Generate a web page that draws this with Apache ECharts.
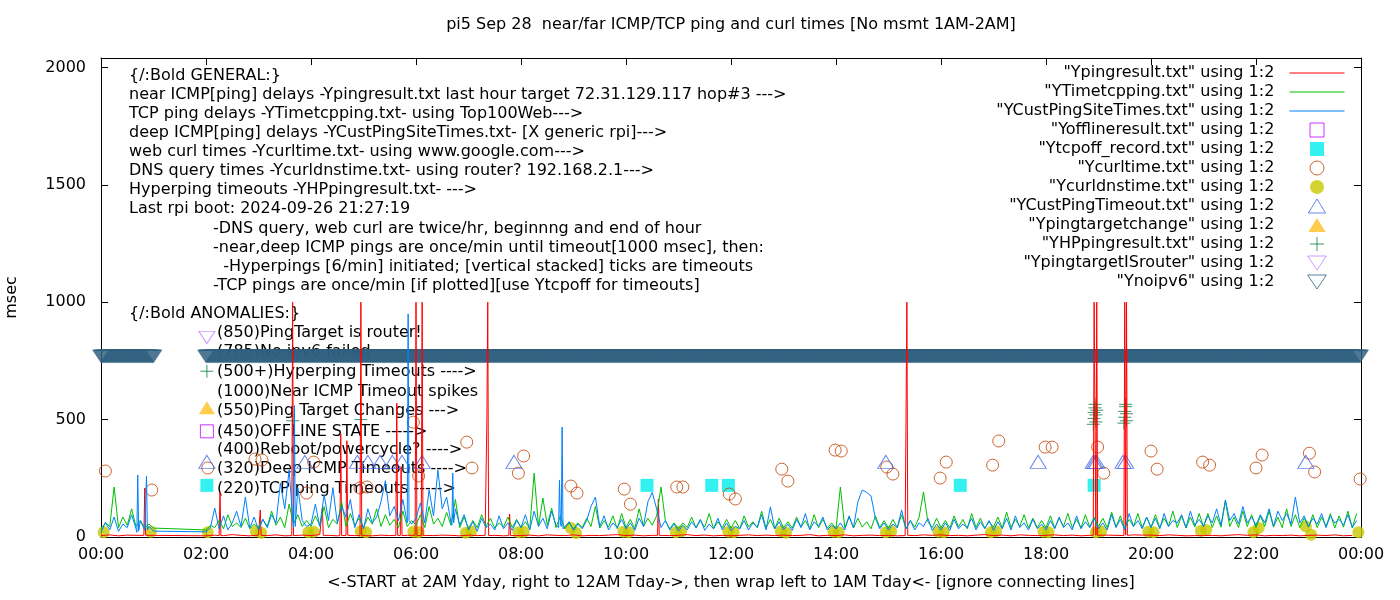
<!DOCTYPE html>
<html>
<head>
<meta charset="utf-8">
<title>pi5 near/far ICMP/TCP ping and curl times</title>
<script src="https://cdn.jsdelivr.net/npm/echarts@6.0.0/dist/echarts.min.js"></script>
<style>
  html, body { margin: 0; padding: 0; background: #fff; }
  #chart { width: 1400px; height: 600px; }
</style>
</head>
<body>
<div id="chart"></div>
<script>
// ---- data (x = minutes after midnight, y = msec) ----
var titleText = 'pi5 Sep 28  near/far ICMP/TCP ping and curl times [No msmt 1AM-2AM]';
var xTitle = '<-START at 2AM Yday, right to 12AM Tday->, then wrap left to 1AM Tday<- [ignore connecting lines]';
var yTitle = 'msec';

var seriesNames = [
  '"Ypingresult.txt" using 1:2',
  '"YTimetcpping.txt" using 1:2',
  '"YCustPingSiteTimes.txt" using 1:2',
  '"Yofflineresult.txt" using 1:2',
  '"Ytcpoff_record.txt" using 1:2',
  '"Ycurltime.txt" using 1:2',
  '"Ycurldnstime.txt" using 1:2',
  '"YCustPingTimeout.txt" using 1:2',
  '"Ypingtargetchange" using 1:2',
  '"YHPpingresult.txt" using 1:2',
  '"YpingtargetISrouter" using 1:2',
  '"Ynoipv6" using 1:2'
];

// near ICMP ping, one row per hour, 10-minute samples
var pingRows = [
  [6, 9, 5, 8, 7, 6], [7, null, null, null, null, null],
  [5, 8, 6, 10, 7, 5], [8, 6, 9, 5, 7, 8], [6, 10, 7, 5, 9, 6], [7, 5, 8, 6, 10, 7],
  [5, 9, 6, 8, 7, 5], [8, 6, 10, 7, 5, 9], [6, 8, 5, 9, 7, 6], [9, 5, 7, 6, 8, 10],
  [6, 8, 5, 7, 9, 6], [7, 10, 6, 8, 5, 7], [5, 7, 9, 6, 8, 6], [8, 6, 7, 10, 5, 7],
  [6, 9, 5, 7, 8, 6], [7, 5, 8, 6, 9, 7], [9, 6, 7, 5, 8, 10], [6, 8, 5, 9, 7, 6],
  [7, 9, 6, 8, 5, 7], [5, 8, 7, 6, 9, 8], [8, 6, 9, 7, 5, 6], [6, 7, 5, 8, 10, 7],
  [9, 5, 7, 6, 8, 5], [7, 8, 6, 9, 5, 7]
];
var pingSpikes = [
  [49, 7], [50, 208], [51, 7], [135, 6], [136, 192], [137, 6], [181, 7], [182, 115], [183, 7],
  [218, 6], [219, 1000], [220, 6], [252, 7], [253, 123], [254, 7],
  [273, 6], [274, 440], [275, 6], [280, 7], [281, 410], [282, 7],
  [296, 6], [297, 1000], [298, 6], [337, 7], [338, 570], [339, 7], [342, 6], [343, 300], [344, 6],
  [359, 7], [360, 1000], [361, 6], [366, 6], [367, 1000], [368, 7],
  [439, 7], [441, 500], [442, 1000], [443, 6], [466, 6], [467, 98], [468, 6],
  [636, 7], [637, 162], [638, 7], [919, 6], [920, 500], [921, 1000], [922, 7],
  [1134, 7], [1135, 1000], [1136, 1000], [1137, 7], [1138, 1000], [1139, 7],
  [1169, 6], [1170, 1000], [1171, 8], [1172, 1000], [1173, 7]
];

// TCP ping, one row per hour, 5-minute samples
var tcpRows = [
  [35, 60, 45, 213, 40, 85, 50, 120, 45, 70, 40, 55],
  [38, null, null, null, null, null, null, null, null, null, null, null],
  [30, 50, 40, 70, 35, 95, 45, 60, 40, 80, 35, 55],
  [40, 75, 45, 110, 50, 85, 40, 140, 55, 95, 45, 70],
  [45, 90, 50, 130, 40, 75, 55, 150, 45, 100, 50, 80],
  [40, 85, 55, 120, 45, 95, 50, 75, 40, 110, 45, 70],
  [50, 95, 40, 130, 55, 80, 45, 105, 50, 160, 40, 85],
  [35, 70, 40, 95, 45, 80, 38, 60, 42, 85, 40, 75],
  [40, 65, 35, 272, 45, 166, 50, 123, 40, 90, 35, 60],
  [35, 60, 40, 80, 45, 130, 38, 70, 42, 90, 35, 100],
  [40, 75, 35, 120, 45, 80, 50, 90, 213, 70, 35, 60],
  [35, 60, 40, 85, 38, 70, 42, 100, 35, 65, 40, 75],
  [38, 70, 35, 90, 42, 65, 40, 110, 38, 75, 35, 80],
  [40, 65, 38, 85, 42, 70, 35, 95, 40, 75, 38, 60],
  [35, 213, 40, 85, 38, 80, 42, 65, 35, 90, 40, 70],
  [38, 75, 40, 95, 35, 70, 42, 85, 192, 65, 40, 80],
  [40, 70, 38, 90, 42, 75, 35, 100, 40, 80, 38, 65],
  [42, 85, 38, 106, 40, 75, 45, 95, 38, 80, 40, 70],
  [40, 90, 38, 80, 45, 100, 40, 75, 38, 95, 42, 85],
  [45, 80, 40, 106, 42, 90, 38, 75, 45, 100, 40, 85],
  [42, 95, 40, 80, 45, 110, 40, 90, 38, 85, 42, 100],
  [45, 100, 40, 90, 42, 153, 45, 85, 40, 110, 45, 95],
  [40, 90, 45, 110, 42, 85, 40, 120, 45, 95, 40, 80],
  [42, 95, 40, 85, 45, 100, 38, 90, 42, 110, 40, 100]
];
var tcpSpikes = [];

// deep ICMP ping, one row per hour, 5-minute samples
var custRows = [
  [18, 62, 30, 85, 24, 55, 40, 95, 35, 70, 28, 45],
  [25, null, null, null, null, null, null, null, null, null, null, null],
  [22, 40, 123, 35, 90, 30, 60, 110, 45, 170, 38, 85],
  [30, 75, 40, 95, 60, 230, 120, 285, 90, 210, 70, 45],
  [55, 140, 45, 180, 70, 210, 60, 130, 85, 160, 40, 95],
  [35, 120, 60, 85, 150, 240, 90, 130, 70, 160, 110, 55],
  [80, 145, 60, 200, 90, 285, 120, 170, 60, 120, 50, 95],
  [30, 65, 25, 80, 40, 55, 30, 90, 35, 60, 28, 70],
  [40, 95, 30, 110, 45, 80, 35, 110, 50, 60, 30, 65],
  [28, 55, 35, 70, 130, 170, 45, 90, 30, 60, 40, 75],
  [35, 60, 28, 80, 45, 150, 190, 120, 40, 70, 30, 55],
  [25, 50, 30, 65, 40, 75, 28, 55, 35, 80, 30, 60],
  [28, 45, 35, 70, 30, 60, 40, 95, 30, 128, 35, 65],
  [30, 55, 28, 75, 40, 100, 30, 65, 45, 85, 30, 50],
  [35, 60, 30, 90, 40, 150, 200, 190, 175, 80, 35, 60],
  [30, 55, 40, 115, 35, 70, 30, 60, 45, 80, 28, 55],
  [30, 60, 28, 75, 35, 55, 40, 80, 30, 65, 35, 70],
  [28, 65, 35, 80, 30, 90, 40, 60, 30, 75, 35, 55],
  [30, 70, 35, 85, 40, 60, 30, 90, 35, 65, 40, 80],
  [35, 60, 30, 95, 40, 75, 30, 100, 45, 70, 35, 85],
  [40, 80, 35, 100, 45, 70, 60, 95, 40, 110, 50, 75],
  [45, 90, 60, 120, 50, 158, 70, 100, 55, 130, 60, 85],
  [50, 95, 60, 120, 45, 110, 70, 100, 55, 170, 60, 90],
  [45, 80, 55, 100, 40, 90, 60, 75, 50, 95, 40, 70]
];
var custSpikes = [
  [41, 20], [42, 264], [43, 25], [51, 22], [52, 260], [53, 30],
  [220, 40], [221, 560], [222, 45], [350, 60], [351, 950], [352, 70],
  [401, 50], [402, 272], [403, 60], [523, 40], [524, 243], [526, 45], [527, 468], [528, 35]
];

var offlinePts = [[121, 450]];
var tcpOffPts = [[121, 220], [624, 220], [698, 220], [717, 220], [982, 220], [1135, 220]];
var curlPts = [
  [5, 281], [58, 200], [122, 294], [176, 332], [184, 328], [235, 187], [243, 319], [296, 209],
  [304, 213], [357, 489], [363, 260], [418, 404], [424, 294], [477, 272], [483, 345], [537, 217],
  [544, 187], [598, 204], [605, 140], [658, 213], [665, 213], [718, 183], [725, 162], [778, 289],
  [785, 238], [839, 370], [846, 366], [898, 298], [905, 268], [959, 251], [966, 319], [1019, 306],
  [1026, 409], [1079, 383], [1087, 383], [1139, 383], [1146, 272], [1200, 366], [1207, 289],
  [1259, 319], [1267, 306], [1320, 294], [1327, 349], [1381, 357], [1387, 277], [1439, 247]
];
var dnsPts = [
  [3, 20], [57, 22], [122, 20], [177, 25], [183, 18], [237, 20], [243, 22], [297, 24], [303, 20],
  [357, 22], [363, 20], [417, 18], [423, 25], [477, 20], [483, 22], [537, 38], [543, 17],
  [597, 22], [603, 20], [657, 20], [663, 24], [717, 22], [723, 20], [777, 24], [783, 18],
  [837, 22], [843, 20], [897, 20], [903, 24], [957, 22], [963, 20], [1017, 20], [1023, 25],
  [1077, 22], [1083, 20], [1137, 20], [1143, 24], [1197, 22], [1203, 20], [1257, 26], [1263, 30],
  [1317, 20], [1323, 38], [1377, 45], [1383, 10], [1437, 20]
];
var custTimeoutMinutes = [121, 233, 293, 305, 319, 333, 344, 367, 472, 897, 1071, 1134, 1136, 1138, 1168, 1171, 1377];
var CUST_TIMEOUT_LEVEL = 320;
var targetChangePts = [[121, 550]];
var hyperPts = [
  [121, 706], [219, 495], [297, 500],
  [1134, 480], [1135, 505], [1135, 530], [1136, 550], [1136, 565], [1137, 490], [1137, 520], [1138, 540],
  [1169, 485], [1170, 510], [1170, 535], [1171, 555], [1171, 565], [1172, 495], [1172, 525]
];
var isRouterPts = [[121, 850]];
var noipv6Ranges = [[0, 60], [120, 1439]];   // one record per minute inside each range
var NOIPV6_LEVEL = 770;

var generalLines = [
  '{/:Bold GENERAL:}',
  'near ICMP[ping] delays -Ypingresult.txt last hour target 72.31.129.117 hop#3 --->',
  'TCP ping delays -YTimetcpping.txt- using Top100Web--->',
  'deep ICMP[ping] delays -YCustPingSiteTimes.txt- [X generic rpi]--->',
  'web curl times -Ycurltime.txt- using www.google.com--->',
  'DNS query times -Ycurldnstime.txt- using router? 192.168.2.1--->',
  'Hyperping timeouts -YHPpingresult.txt- --->',
  'Last rpi boot: 2024-09-26 21:27:19'
];
var noteLines = [
  '-DNS query, web curl are twice/hr, beginnng and end of hour',
  '-near,deep ICMP pings are once/min until timeout[1000 msec], then:',
  '  -Hyperpings [6/min] initiated; [vertical stacked] ticks are timeouts',
  '-TCP pings are once/min [if plotted][use Ytcpoff for timeouts]'
];
var anomalyHead = '{/:Bold ANOMALIES:}';
var anomalyLines = [
  '(850)PingTarget is router!',
  '(785)No ipv6 failed',
  '(500+)Hyperping Timeouts ---->',
  '(1000)Near ICMP Timeout spikes',
  '(550)Ping Target Changes --->',
  '(450)OFFLINE STATE ----->',
  '(400)Reboot/powercycle? ---->',
  '(320)Deep ICMP Timeouts ---->',
  '(220)TCP ping Timeouts ----->'
];

// ---- helpers ----
var FONT = 'DejaVu Sans';
var FS = 16;
var SQUARE = 'path://M0,0L10,0L10,10L0,10Z';
var UP_TRI = 'path://M8,0L16,13L0,13Z';
var DOWN_TRI = 'path://M0,0L16,0L8,12Z';
var PLUS = 'path://M6,0L6,12M0,6L12,6';

function pad(n) { return (n < 10 ? '0' : '') + n; }
function hhmm(m) { return pad(Math.floor(m / 60) % 24) + ':' + pad(m % 60); }

function buildLine(rows, step, spikes) {
  var byMinute = {};
  rows.forEach(function (row, hour) {
    row.forEach(function (v, i) {
      if (v !== null) byMinute[hour * 60 + i * step] = v;
    });
  });
  spikes.forEach(function (p) { byMinute[p[0]] = p[1]; });
  return Object.keys(byMinute).map(Number).sort(function (a, b) { return a - b; })
    .map(function (m) { return [m, byMinute[m]]; });
}

function expandRanges(ranges, level) {
  var pts = [];
  ranges.forEach(function (r) {
    for (var m = r[0]; m <= r[1]; m++) pts.push([m, level]);
  });
  return pts;
}

function lineSeries(name, color, data) {
  return {
    name: name, type: 'line', data: data, symbol: 'none', showSymbol: false,
    lineStyle: { color: color, width: 1 }, itemStyle: { color: color }, silent: true
  };
}

function scatterSeries(name, symbol, size, color, open, data) {
  return {
    name: name, type: 'scatter', data: data, symbol: symbol, symbolSize: size, silent: true,
    itemStyle: open
      ? { color: 'rgba(0,0,0,0)', borderColor: color, borderWidth: 1 }
      : { color: color }
  };
}

function textEl(text, x, y, extra) {
  var style = { text: text, x: x, y: y, fill: '#000', fontSize: FS, fontFamily: FONT, verticalAlign: 'middle' };
  for (var k in extra) style[k] = extra[k];
  return { type: 'text', z: 0, style: style };
}

// ---- graphic labels ----
var graphics = [textEl(titleText, 731, 25, { align: 'center' })];
generalLines.forEach(function (t, i) { graphics.push(textEl(t, 129, 75.5 + i * 19.1)); });
noteLines.forEach(function (t, i) { graphics.push(textEl(t, 213, 229 + i * 19)); });
graphics.push(textEl(anomalyHead, 129, 314));
var anomalyY = [333, 352, 372, 392, 411, 432, 450, 469, 489];
anomalyLines.forEach(function (t, i) { graphics.push(textEl(t, 217, anomalyY[i])); });

var axisText = { color: '#000', fontSize: FS, fontFamily: FONT };
var blackLine = { show: true, onZero: false, lineStyle: { color: '#000', width: 1 } };
var legendData = seriesNames.map(function (n, i) {
  return i < 3 ? { name: n, itemStyle: { opacity: 0 } } : { name: n };
});

var chart = echarts.init(document.getElementById('chart'));
chart.setOption({
  animation: false,
  backgroundColor: '#fff',
  grid: { left: 101, right: 39, top: 58, bottom: 63, containLabel: false, outerBoundsMode: 'none' },
  graphic: graphics,
  legend: {
    orient: 'vertical', right: 50, top: 60, align: 'right',
    itemWidth: 55, itemHeight: 14, itemGap: 3, selectedMode: false,
    textStyle: { color: '#000', fontSize: FS, fontFamily: FONT },
    formatter: function (n) { return n + '  '; },
    itemStyle: { borderWidth: 1 },
    lineStyle: { width: 1 },
    data: legendData
  },
  xAxis: [{
    type: 'value', min: 0, max: 1440, interval: 120,
    axisLine: blackLine,
    axisTick: { inside: true, length: 7, lineStyle: { color: '#000' } },
    axisLabel: { formatter: hhmm, margin: 10, color: '#000', fontSize: FS, fontFamily: FONT },
    splitLine: { show: false },
    name: xTitle, nameLocation: 'middle', nameGap: 38, nameTextStyle: axisText
  }, {
    type: 'value', position: 'top', min: 0, max: 1440, interval: 120,
    axisLine: blackLine,
    axisTick: { inside: true, length: 7, lineStyle: { color: '#000' } },
    axisLabel: { show: false }, splitLine: { show: false }
  }],
  yAxis: [{
    type: 'value', min: 0, max: 2040, interval: 500,
    axisLine: blackLine,
    axisTick: { inside: true, length: 7, lineStyle: { color: '#000' } },
    axisLabel: {
      margin: 15, showMaxLabel: false, color: '#000', fontSize: FS, fontFamily: FONT,
      formatter: function (v) { return String(v); }
    },
    splitLine: { show: false },
    name: yTitle, nameLocation: 'middle', nameGap: 81, nameTextStyle: axisText
  }, {
    type: 'value', position: 'right', min: 0, max: 2040, interval: 500,
    axisLine: blackLine,
    axisTick: { inside: true, length: 7, lineStyle: { color: '#000' } },
    axisLabel: { show: false }, splitLine: { show: false }
  }],
  series: [
    lineSeries(seriesNames[0], '#ff0000', buildLine(pingRows, 10, pingSpikes)),
    lineSeries(seriesNames[1], '#00c000', buildLine(tcpRows, 5, tcpSpikes)),
    lineSeries(seriesNames[2], '#0080ff', buildLine(custRows, 5, custSpikes)),
    scatterSeries(seriesNames[3], SQUARE, 13, '#c000ff', true, offlinePts),
    scatterSeries(seriesNames[4], SQUARE, 13, '#00eeee', false, tcpOffPts),
    scatterSeries(seriesNames[5], 'circle', 12, '#c04000', true, curlPts),
    scatterSeries(seriesNames[6], 'circle', 12, '#c8c800', false, dnsPts),
    scatterSeries(seriesNames[7], UP_TRI, [16, 13], '#4169e1', true,
      custTimeoutMinutes.map(function (m) { return [m, CUST_TIMEOUT_LEVEL]; })),
    scatterSeries(seriesNames[8], UP_TRI, [16, 13], '#ffc020', false, targetChangePts),
    scatterSeries(seriesNames[9], PLUS, 13, '#008040', true, hyperPts),
    scatterSeries(seriesNames[10], DOWN_TRI, [16, 12], '#c080ff', true, isRouterPts),
    scatterSeries(seriesNames[11], DOWN_TRI, [16, 12], '#306080', true, expandRanges(noipv6Ranges, NOIPV6_LEVEL))
  ]
});
</script>
</body>
</html>
